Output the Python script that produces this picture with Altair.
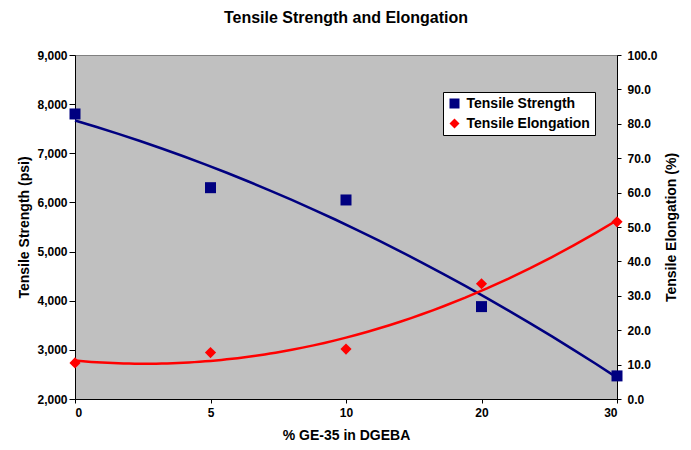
import altair as alt
import pandas as pd

categories = ["0", "5", "10", "20", "30"]
strength = [7800, 6300, 6050, 3880, 2470]
elongation = [10.5, 13.5, 14.5, 33.5, 51.5]
series_names = ["Tensile Strength", "Tensile Elongation"]
colors = ["#000080", "#FF0000"]
shapes = ["square", "diamond"]

rows = []
for i, c in enumerate(categories):
    rows.append({"idx": i, "series": series_names[0], "value": strength[i]})
    rows.append({"idx": i, "series": series_names[1], "value": elongation[i]})
df = pd.DataFrame(rows)

FONT = "Liberation Sans"
label_expr = "[" + ",".join(f"'{c}'" for c in categories) + "][datum.value]"

x_enc = alt.X(
    "idx:Q",
    scale=alt.Scale(domain=[0, 4], nice=False, zero=False),
    axis=alt.Axis(
        values=list(range(len(categories))),
        labelExpr=label_expr,
        title="% GE-35 in DGEBA",
        grid=False,
        tickSize=4,
        tickColor="black",
        domainColor="black",
        labelPadding=4,
        titlePadding=10,
    ),
)

left_axis = alt.Axis(
    title="Tensile Strength (psi)",
    values=list(range(2000, 9001, 1000)),
    format=",.0f",
    grid=False,
    tickSize=6,
    tickColor="black",
    domainColor="black",
    labelPadding=2,
    titlePadding=5,
)
right_axis = alt.Axis(
    title="Tensile Elongation (%)",
    orient="right",
    titleAngle=270,
    values=list(range(0, 101, 10)),
    format=".1f",
    grid=False,
    tickSize=4,
    tickColor="black",
    domainColor="black",
    labelPadding=6,
    titlePadding=21,
)

color_enc = alt.Color(
    "series:N",
    scale=alt.Scale(domain=series_names, range=colors),
    legend=alt.Legend(
        title=None,
        orient="none",
        legendX=368,
        legendY=37,
        fillColor="white",
        strokeColor="black",
        padding=4.5,
        rowPadding=6,
        symbolSize=100,
        labelFontSize=14,
        labelFontWeight="bold",
        labelFont=FONT,
        labelColor="black",
        labelOffset=5,
        labelLimit=300,
        symbolOffset=0,
    ),
)
shape_enc = alt.Shape(
    "series:N",
    scale=alt.Scale(domain=series_names, range=shapes),
    legend=None,
)

base = alt.Chart(df)

ys_scale = alt.Scale(domain=[2000, 9000], nice=False, zero=False)
ye_scale = alt.Scale(domain=[0, 100], nice=False)

s_line = (
    base.transform_filter(alt.datum.series == series_names[0])
    .transform_regression("idx", "value", method="poly", order=2, extent=[0, 4])
    .mark_line(color=colors[0], strokeWidth=2.5)
    .encode(x=x_enc, y=alt.Y("value:Q", scale=ys_scale, axis=left_axis))
)
s_pts = (
    base.transform_filter(alt.datum.series == series_names[0])
    .mark_point(filled=True, opacity=1, size=121)
    .encode(x=x_enc, y=alt.Y("value:Q", scale=ys_scale, axis=left_axis),
            color=color_enc, shape=shape_enc)
)
e_line = (
    base.transform_filter(alt.datum.series == series_names[1])
    .transform_regression("idx", "value", method="poly", order=2, extent=[0, 4])
    .mark_line(color=colors[1], strokeWidth=2.5)
    .encode(x=x_enc, y=alt.Y("value:Q", scale=ye_scale, axis=right_axis))
)
e_pts = (
    base.transform_filter(alt.datum.series == series_names[1])
    .mark_point(filled=True, opacity=1, size=125)
    .encode(x=x_enc, y=alt.Y("value:Q", scale=ye_scale, axis=right_axis),
            color=color_enc, shape=shape_enc)
)

left = alt.layer(s_line, s_pts)
right = alt.layer(e_line, e_pts)

chart = (
    alt.layer(left, right)
    .resolve_scale(y="independent")
    .properties(
        width=542,
        height=344,
        autosize=alt.AutoSizeParams(type="none"),
        padding={"left": 67, "top": 47, "right": 64, "bottom": 43},
        title=alt.TitleParams(
            "Tensile Strength and Elongation",
            font=FONT,
            fontSize=16,
            fontWeight="bold",
            anchor="middle",
            frame="group",
            offset=23,
            color="black",
        ),
        background="white",
    )
    .configure_view(fill="#C0C0C0", stroke="#808080", strokeWidth=1)
    .configure_axis(
        labelFont=FONT,
        labelFontSize=12,
        labelFontWeight="bold",
        labelColor="black",
        titleFont=FONT,
        titleFontSize=14,
        titleFontWeight="bold",
        titleColor="black",
        domainWidth=1,
    )
)

chart.save("out.html", embed_options={"renderer": "svg", "actions": False})
